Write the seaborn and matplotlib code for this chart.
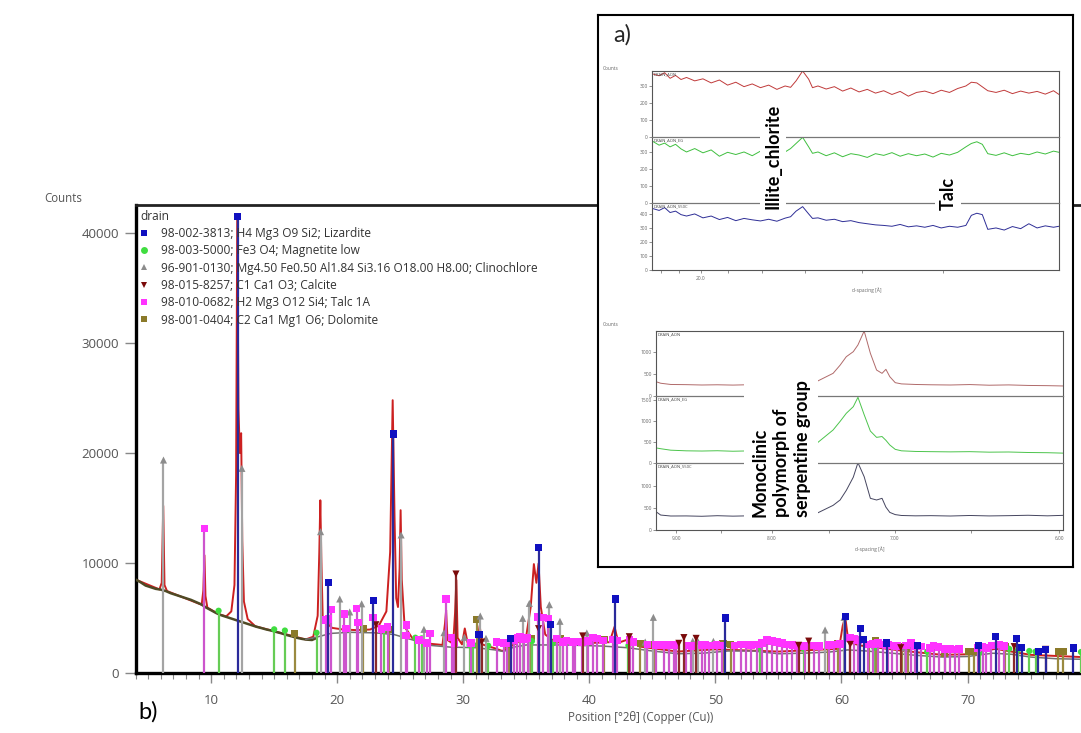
import numpy as np
import matplotlib
matplotlib.use("Agg")
import matplotlib.pyplot as plt
from matplotlib.lines import Line2D
from matplotlib.ticker import MultipleLocator
import seaborn as sns

# ---------------- main pattern: Position [deg 2theta] vs Counts ----------------
meas_pos = [4.0, 5.9, 6.08, 6.2, 6.3, 6.5, 9.25, 9.38, 9.47, 9.55, 9.7, 10.6, 11.2, 11.6,
            11.85, 11.98, 12.07, 12.17, 12.27, 12.38, 12.47, 12.6, 12.9, 13.5, 15.0, 17.5,
            18.1, 18.45, 18.58, 18.66, 18.74, 18.85, 19.2, 19.6, 20.5, 21.5, 22.6, 23.3,
            23.9, 24.2, 24.4, 24.55, 24.68, 24.82, 24.95, 25.03, 25.12, 25.35, 26.0, 27.0,
            28.35, 28.55, 28.64, 28.75, 29.2, 29.35, 29.45, 29.55, 29.9, 30.12, 30.35, 31.1,
            31.3, 31.5, 32.5, 33.1, 34.2, 35.0, 35.35, 35.6, 35.8, 35.97, 36.15, 36.5, 37.3,
            39.5, 41.6, 42.0, 42.3, 43.2, 44.0, 47.0, 50.0, 55.0, 59.8, 60.1, 60.3, 60.55,
            61.5, 65.0, 68.0, 70.0, 72.2, 75.0, 79.0]
meas_counts = [8500, 7600, 8200, 15200, 8000, 7450, 6200, 7500, 10700, 7000, 5950, 5350, 5150,
               5600, 8000, 18000, 41200, 24000, 20000, 21800, 12000, 6500, 4900, 4250, 3800,
               3050, 3300, 5200, 11000, 15700, 10500, 5000, 4500, 4100, 3950, 3900, 3950, 4300,
               5600, 11000, 24800, 14000, 6800, 6000, 9500, 14800, 8500, 4200, 3100, 2700,
               2550, 4500, 5700, 3000, 2650, 5500, 8450, 3200, 2600, 4050, 2700, 2650,
               4300, 2600, 2250, 2000, 2700, 3400, 6000, 9900, 8200, 9950, 6000, 3500, 2800,
               2700, 2800, 4200, 2750, 3100, 2400, 1950, 2150, 1950, 2200, 4300, 5100, 2800,
               2500, 2000, 1650, 1700, 2200, 1650, 1450]

low_bg_pos = [4.0, 4.4, 4.8, 5.2, 5.6, 6.0, 6.4, 6.8, 7.2, 7.6, 8.0, 8.4, 8.8, 9.2, 9.6, 10.0,
              10.4, 10.8, 11.2, 11.6, 12.0, 12.4, 12.8, 13.2, 13.6, 14.0, 14.4, 14.8, 15.2,
              15.6, 16.0, 16.4, 16.8, 17.2, 17.6, 18.0, 18.3]
low_bg_counts = [8500, 8250, 7950, 7800, 7650, 7580, 7450, 7250, 7100, 6950, 6800, 6650, 6450,
                 6250, 5950, 5700, 5450, 5250, 5100, 4950, 4800, 4650, 4500, 4350, 4200, 4080,
                 3950, 3850, 3720, 3600, 3450, 3330, 3200, 3100, 3030, 3000, 3150]

bg_pos = [17.5, 18.5, 19.5, 21.0, 23.0, 24.5, 26.0, 27.5, 29.0, 31.0, 32.5, 33.2, 34.0, 35.0,
          38.0, 41.0, 43.0, 45.0, 47.0, 49.0, 51.0, 53.0, 55.0, 57.0, 59.0, 60.5, 62.0, 64.0,
          66.0, 68.0, 70.0, 72.0, 73.5, 75.0, 77.0, 79.0]
bg_counts = [3050, 3300, 3600, 3700, 3650, 3500, 3000, 2500, 2350, 2300, 2100, 1950, 2350, 2550,
             2550, 2450, 2300, 2000, 1750, 1800, 2000, 2000, 1750, 1800, 1900, 2100, 2000, 1800,
             1600, 1450, 1500, 1800, 1700, 1450, 1300, 1250]

# ---------------- reference patterns (stick positions / heights) ----------------
phase_labels = ["98-002-3813; H4 Mg3 O9 Si2; Lizardite",
                "98-003-5000; Fe3 O4; Magnetite low",
                "96-901-0130; Mg4.50 Fe0.50 Al1.84 Si3.16 O18.00 H8.00; Clinochlore",
                "98-015-8257; C1 Ca1 O3; Calcite",
                "98-010-0682; H2 Mg3 O12 Si4; Talc 1A",
                "98-001-0404; C2 Ca1 Mg1 O6; Dolomite"]

lizardite_pos = [12.1, 19.29, 22.86, 24.45, 31.25, 33.75, 35.97, 36.92, 42.04, 50.8, 60.3, 61.5,
                 61.75, 63.6, 66.0, 70.87, 72.25, 73.9, 74.3, 75.6, 76.2, 78.4]
lizardite_h = [41500, 8240, 6550, 21730, 3500, 3100, 11430, 4400, 6730, 5000, 5120, 4060,
               3060, 2730, 2460, 2460, 3330, 3120, 2300, 1970, 2150, 2270]

magnetite_pos = [10.59, 15.0, 15.85, 18.36, 23.7, 26.2, 26.7, 30.5, 30.8, 31.98, 35.45, 37.1,
                 43.1, 53.5, 57.0, 62.6, 66.8, 71.0, 73.3, 74.0, 74.9, 75.4, 79.0]
magnetite_h = [5660, 3970, 3860, 3660, 3920, 3210, 3150, 2540, 2540, 2480, 2900, 2700,
               2500, 2300, 2200, 2300, 1940, 1900, 2200, 2100, 2000, 1950, 1910]

clinochlore_pos = [6.22, 12.44, 18.68, 20.2, 20.99, 21.94, 25.07, 26.88, 28.47, 30.08, 31.35,
                   31.8, 34.71, 35.24, 36.83, 37.67, 39.8, 44.43, 45.08, 48.2, 48.6, 49.84,
                   58.7, 60.2, 65.0]
clinochlore_h = [19360, 18600, 12850, 6730, 5550, 6290, 12550, 3970, 3670, 3240, 5180,
                 3150, 4970, 6330, 6210, 4700, 3640, 2820, 5060, 2900, 2900, 2880,
                 3910, 5060, 2300]

calcite_pos = [23.07, 29.42, 31.45, 35.97, 39.47, 43.17, 47.1, 47.5, 48.47, 56.6, 57.4, 60.7,
               64.7, 73.7, 76.2]
calcite_h = [4390, 9000, 2820, 4030, 3370, 3300, 2700, 3220, 3150, 2520, 2900, 2600,
             2300, 2400, 2150]

talc_pos = [9.47, 19.1, 19.3, 19.5, 20.57, 20.7, 21.54, 21.67, 22.86, 23.5, 24.0, 25.45, 25.5,
            26.5, 27.1, 27.35, 28.64, 29.1, 29.3, 30.6, 32.65, 33.2, 33.5, 34.0, 34.3, 34.5,
            34.8, 35.1, 35.9, 36.35, 36.75, 37.4, 37.9, 38.2, 38.7, 38.9, 39.4, 39.9, 40.3,
            40.6, 41.1, 41.9, 42.2, 43.2, 43.5, 44.6, 45.3, 45.9, 46.3, 46.7, 46.9, 47.7,
            48.1, 48.9, 49.2, 49.5, 50.1, 50.5, 51.5, 52.0, 52.4, 52.8, 53.3, 53.7, 54.1,
            54.5, 54.9, 55.3, 55.7, 56.1, 56.5, 57.1, 57.8, 58.2, 59.0, 59.4, 59.9, 60.7,
            61.0, 61.3, 62.1, 62.5, 62.9, 63.3, 63.7, 64.0, 64.4, 65.1, 65.5, 65.8, 66.3,
            67.0, 67.3, 67.7, 68.2, 68.6, 69.0, 69.3, 70.8, 71.2, 71.5, 71.9, 72.5, 72.9]
talc_h = [13150, 4800, 4900, 5770, 5390, 4030, 5850, 4580, 5030, 4000, 4200, 3420, 4390,
          3000, 2750, 3600, 6730, 3240, 2750, 2700, 2820, 2700, 2750, 3000, 3200, 3300,
          3100, 3200, 5090, 5030, 4970, 3120, 2820, 2970, 2820, 2850, 2820, 2900, 3240,
          3120, 2970, 3060, 2970, 3000, 2800, 2600, 2550, 2520, 2520, 2550, 2500, 2500,
          2480, 2550, 2550, 2500, 2520, 2500, 2500, 2580, 2600, 2550, 2580, 2700, 3000,
          2900, 2800, 2700, 2600, 2550, 2450, 2450, 2500, 2450, 2550, 2600, 2650, 3200,
          3100, 3000, 2600, 2650, 2700, 2600, 2550, 2500, 2450, 2500, 2700, 2450, 2400,
          2250, 2500, 2350, 2200, 2200, 2150, 2200, 2300, 2350, 2300, 2500, 2600, 2450]

dolomite_pos = [16.64, 22.07, 24.1, 31.06, 33.6, 35.4, 37.7, 41.2, 44.03, 45.1, 50.6, 51.2,
                58.9, 59.7, 62.2, 62.7, 64.8, 65.3, 68.2, 70.1, 70.5, 73.0, 77.2, 77.6]
dolomite_h = [3600, 4030, 3920, 4880, 2640, 3150, 3120, 3060, 2700, 2580, 2700, 2580,
              2580, 2700, 2580, 2940, 2400, 2250, 1820, 1970, 1970, 2400, 1970, 1970]

# ---------------- inset a) upper: low-angle region (2theta) ----------------
up_x = [3.52, 3.65, 3.75, 3.85, 3.95, 4.05, 4.15, 4.3, 4.45, 4.6, 4.75, 4.9, 5.05, 5.2, 5.35,
        5.5, 5.65, 5.8, 5.95, 6.05, 6.15, 6.27, 6.38, 6.45, 6.55, 6.7, 6.85, 7.0, 7.15, 7.3,
        7.45, 7.6, 7.75, 7.9, 8.05, 8.2, 8.35, 8.5, 8.65, 8.8, 8.95, 9.1, 9.25, 9.35, 9.45,
        9.55, 9.65, 9.8, 9.95, 10.1, 10.25, 10.4, 10.55, 10.7, 10.85, 10.95]
up_aon = [372, 360, 378, 345, 362, 338, 350, 330, 342, 318, 335, 305, 322, 296, 312, 290, 305,
          280, 300, 292, 330, 388, 340, 290, 300, 282, 296, 270, 288, 265, 280, 258, 272, 250,
          268, 240, 262, 270, 255, 275, 262, 285, 300, 322, 318, 295, 272, 262, 275, 255, 270,
          258, 268, 252, 272, 250]
up_eg = [365, 340, 352, 330, 345, 318, 300, 320, 295, 312, 275, 298, 285, 300, 278, 305, 290,
         312, 300, 320, 350, 386, 330, 292, 300, 278, 295, 272, 290, 282, 268, 290, 280, 296,
         275, 290, 278, 288, 270, 292, 282, 298, 330, 350, 360, 345, 290, 280, 295, 278, 292,
         284, 300, 288, 305, 298]
up_550 = [440, 425, 445, 410, 420, 395, 385, 400, 372, 385, 360, 375, 352, 368, 358, 350, 362,
          348, 370, 380, 420, 452, 400, 368, 372, 355, 362, 345, 352, 338, 330, 322, 318, 312,
          325, 308, 315, 305, 318, 300, 312, 305, 318, 390, 405, 395, 290, 300, 285, 310, 295,
          330, 300, 315, 305, 312]

# ---------------- inset a) lower: serpentine 7 A region ----------------
lo_x = [9.56, 9.62, 9.75, 9.95, 10.15, 10.35, 10.55, 10.75, 10.95, 11.15, 11.35, 11.5, 11.63,
        11.84, 11.93, 12.01, 12.10, 12.16, 12.24, 12.32, 12.40, 12.47, 12.52, 12.57, 12.64,
        12.72, 12.9, 13.1, 13.35, 13.6, 13.85, 14.1, 14.35, 14.6, 14.8]
lo_aon = [325, 290, 262, 258, 250, 255, 248, 256, 250, 262, 270, 300, 330, 515, 700, 893, 1007,
          1160, 1477, 970, 590, 515, 606, 439, 303, 275, 262, 255, 250, 260, 245, 252, 240,
          235, 228]
lo_eg = [360, 340, 305, 290, 285, 292, 280, 288, 282, 290, 300, 340, 469, 786, 990, 1183, 1341,
         1564, 1150, 760, 610, 630, 540, 429, 325, 290, 275, 270, 265, 270, 258, 262, 250, 245,
         235]
lo_550 = [416, 340, 318, 320, 312, 325, 315, 322, 310, 318, 330, 350, 379, 560, 682, 900, 1200,
          1530, 1212, 720, 682, 720, 520, 400, 350, 330, 322, 326, 318, 330, 320, 326, 335, 322,
          333]

up_d_ticks = [24, 22, 20, 18, 16, 14, 12, 10]
up_d_labels = ["", "", "20.0", "", "", "", "", ""]
lo_d_ticks = [9.0, 8.5, 8.0, 7.5, 7.0, 6.5, 6.0]
lo_d_labels = ["9.00", "", "8.00", "", "7.00", "", "6.00"]


def two_theta(d):
    # Cu K-alpha, d-spacing -> position, only used to place the d-spacing ticks
    return np.degrees(2 * np.arcsin(1.5406 / (2 * np.asarray(d, dtype=float))))


sns.set_style("white")
plt.rcParams['font.family'] = ['Open Sans', 'DejaVu Sans']

W, H = 1081, 733
fig = plt.figure(figsize=(W / 100, H / 100), dpi=100)


def fx(px):
    return px / W


def fy(py):
    return 1 - py / H


# ---------------- main axes ----------------
ax = fig.add_axes([fx(135.5), fy(673), 1 - fx(135.5), (673 - 205) / H])
ax.set_zorder(1)

sns.lineplot(x=meas_pos, y=meas_counts, ax=ax, color='#cc2020', lw=1.4,
             sort=False, estimator=None, zorder=2)
sns.lineplot(x=low_bg_pos, y=low_bg_counts, ax=ax, color='#4f4a25', lw=1.8,
             sort=False, estimator=None, zorder=3)
sns.lineplot(x=bg_pos, y=bg_counts, ax=ax, color='#707070', lw=1.1,
             sort=False, estimator=None, zorder=3)

phases = [
    (dolomite_pos, dolomite_h, '#9a8a40', '#8b7a2a', 's', 26),
    (magnetite_pos, magnetite_h, '#66cc55', '#40dd40', 'o', 20),
    (clinochlore_pos, clinochlore_h, '#a4a4a4', '#8c8c8c', '^', 26),
    (talc_pos, talc_h, '#cc55cc', '#ff33ff', 's', 30),
    (calcite_pos, calcite_h, '#8a2a2a', '#7a0a0a', 'v', 26),
    (lizardite_pos, lizardite_h, '#2a2a9a', '#1010c0', 's', 26),
]
for i, (pos, h, scol, mcol, mk, sz) in enumerate(phases):
    ax.vlines(pos, 0, h, colors=scol, lw=1.6, zorder=4 + i)
    sns.scatterplot(x=pos, y=h, ax=ax, marker=mk, color=mcol, s=sz,
                    linewidth=0, edgecolor='none', legend=False, zorder=4.5 + i)

ax.set_xlim(4.0, 79.0)
ax.set_ylim(0, 42545)
ax.set_xlabel('')
ax.set_ylabel('')
ax.set_yticks([0, 10000, 20000, 30000, 40000])
ax.xaxis.set_major_locator(MultipleLocator(10))
ax.xaxis.set_minor_locator(MultipleLocator(1))
ax.tick_params(axis='y', which='major', length=8, width=1, color='#888888',
               labelsize=9.5, labelcolor='#555555', pad=4, left=True)
ax.tick_params(axis='x', which='major', length=7, width=1, color='#888888',
               labelsize=9.5, labelcolor='#555555', pad=8, bottom=True)
ax.tick_params(axis='x', which='minor', length=4, width=0.8, color='#888888', bottom=True)
for side in ['left', 'bottom']:
    ax.spines[side].set_linewidth(2.4)
    ax.spines[side].set_color('black')
ax.spines['top'].set_linewidth(2.0)
ax.spines['top'].set_color('#222222')
ax.spines['right'].set_visible(False)

handles = [Line2D([], [], ls='none', marker=p[4], color=p[3], markersize=5, markeredgewidth=0)
           for p in [phases[5], phases[1], phases[2], phases[4], phases[3], phases[0]]]
leg = ax.legend(handles, phase_labels, title='drain', loc='upper left',
                bbox_to_anchor=(0.0, 1.0), frameon=False, alignment='left',
                fontsize=8.6, title_fontsize=8.6, handlelength=0.6, handletextpad=1.1,
                borderaxespad=0.2, borderpad=0.2, labelspacing=0.36)
for t in leg.get_texts():
    t.set_color('#333333')
leg.get_title().set_color('#333333')
leg.set_zorder(20)

fig.text(fx(63), fy(198), 'Counts', ha='center', va='center', fontsize=8.3, color='#555555')
fig.text(fx(641), fy(718), 'Position [°2θ] (Copper (Cu))', ha='center', va='center',
         fontsize=8.3, color='#555555')
fig.text(fx(148), fy(712), 'b)', ha='center', va='center', fontsize=17,
         family=['Lato', 'DejaVu Sans'], color='black')

# ---------------- inset frame ----------------
frame = fig.add_axes([fx(598), fy(567), (1073 - 598) / W, (567 - 15) / H])
frame.set_zorder(5)
frame.set_facecolor('white')
frame.set_xticks([])
frame.set_yticks([])
for s in frame.spines.values():
    s.set_linewidth(1.5)
    s.set_color('black')
fig.text(fx(622), fy(35), 'a)', ha='center', va='center', fontsize=17,
         family=['Lato', 'DejaVu Sans'], zorder=8)


def stacked(left_px, right_px, edges_px, traces, ymaxes, yticks, xlim, xt, xtl, names):
    axes = []
    for k in range(3):
        top, bot = edges_px[k], edges_px[k + 1]
        a = fig.add_axes([fx(left_px), fy(bot), (right_px - left_px) / W, (bot - top) / H])
        a.set_zorder(6)
        a.set_facecolor('none')
        col, ys = traces[k]
        sns.lineplot(x=xlim[2], y=ys, ax=a, color=col, lw=0.7, sort=False, estimator=None)
        a.set_xlim(xlim[0], xlim[1])
        a.set_ylim(0, ymaxes[k])
        a.set_yticks(yticks[k])
        a.set_xlabel('')
        a.set_ylabel('')
        a.tick_params(axis='y', labelsize=3.5, length=2, width=0.5, colors='#666666', pad=1,
                      left=True)
        if k == 2:
            a.set_xticks(two_theta(xt))
            a.set_xticklabels(xtl)
            a.tick_params(axis='x', labelsize=3.5, length=2, width=0.5, colors='#666666',
                          pad=2, bottom=True)
        else:
            a.set_xticks([])
        for side, s in a.spines.items():
            s.set_linewidth(0.8)
            s.set_color('#555555')
        if k > 0:
            a.spines['top'].set_color('#777777')
        a.text(0.005, 0.985, names[k], transform=a.transAxes, fontsize=3, va='top',
               ha='left', color='#444444')
        axes.append(a)
    return axes


names = ['DRAIN_AON', 'DRAIN_AON_EG', 'DRAIN_AON_550C']
stacked(652, 1059, [71, 137, 203, 270],
        [('#c03a3a', up_aon), ('#3fbf3f', up_eg), ('#2e2e96', up_550)],
        [388, 388, 478],
        [[0, 100, 200, 300], [0, 100, 200, 300], [0, 100, 200, 300, 400]],
        (3.52, 10.95, up_x), up_d_ticks, up_d_labels, names)
stacked(656, 1063, [331, 396, 463, 530],
        [('#b06a6a', lo_aon), ('#4cc44c', lo_eg), ('#45455f', lo_550)],
        [1477, 1595, 1523],
        [[0, 500, 1000], [0, 500, 1000, 1500], [0, 500, 1000]],
        (9.56, 14.80, lo_x), lo_d_ticks, lo_d_labels, names)

for py in (68, 325):
    fig.text(fx(611), fy(py), 'Counts', fontsize=3.5, color='#666666', ha='center',
             va='center', zorder=8)
fig.text(fx(867), fy(290), 'd-spacing [Å]', fontsize=3.5, color='#666666', ha='center',
         va='center', zorder=8)
fig.text(fx(870), fy(549), 'd-spacing [Å]', fontsize=3.5, color='#666666', ha='center',
         va='center', zorder=8)

bold = dict(family=['Lato', 'DejaVu Sans'], fontweight='bold', color='black', zorder=10,
            ha='center', va='center', rotation=90)
fig.text(fx(773), fy(156), 'Illite_chlorite', fontsize=13,
         bbox=dict(fc='white', ec='none', pad=3), **bold)
fig.text(fx(948), fy(193), 'Talc', fontsize=13,
         bbox=dict(fc='white', ec='none', pad=3), **bold)
fig.text(fx(781), fy(449), 'Monoclinic\npolymorph of\nserpentine group', fontsize=13,
         multialignment='left', linespacing=1.3,
         bbox=dict(fc='white', ec='none', pad=5), **bold)

fig.savefig('out.png', dpi=100)
